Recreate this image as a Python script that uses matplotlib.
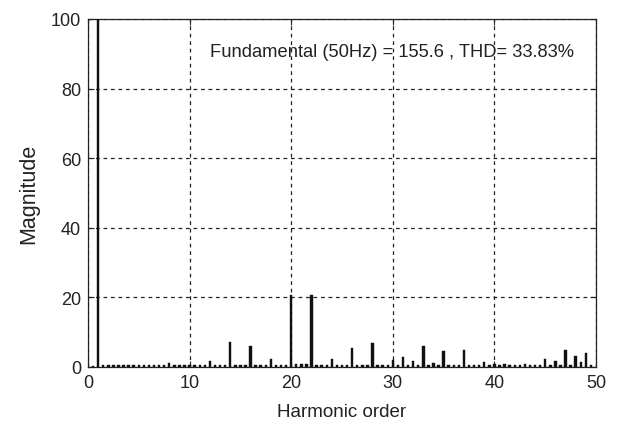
import numpy as np
import matplotlib
matplotlib.use("Agg")
import matplotlib.pyplot as plt

plt.rcParams['font.family'] = ['Liberation Sans', 'DejaVu Sans']

# Harmonic orders (half-order resolution) and their magnitudes (% of fundamental)
orders = [
    0.5, 1.0, 1.5, 2.0, 2.5, 3.0, 3.5, 4.0, 4.5, 5.0,
    5.5, 6.0, 6.5, 7.0, 7.5, 8.0, 8.5, 9.0, 9.5, 10.0,
    10.5, 11.0, 11.5, 12.0, 12.5, 13.0, 13.5, 14.0, 14.5, 15.0,
    15.5, 16.0, 16.5, 17.0, 17.5, 18.0, 18.5, 19.0, 19.5, 20.0,
    20.5, 21.0, 21.5, 22.0, 22.5, 23.0, 23.5, 24.0, 24.5, 25.0,
    25.5, 26.0, 26.5, 27.0, 27.5, 28.0, 28.5, 29.0, 29.5, 30.0,
    30.5, 31.0, 31.5, 32.0, 32.5, 33.0, 33.5, 34.0, 34.5, 35.0,
    35.5, 36.0, 36.5, 37.0, 37.5, 38.0, 38.5, 39.0, 39.5, 40.0,
    40.5, 41.0, 41.5, 42.0, 42.5, 43.0, 43.5, 44.0, 44.5, 45.0,
    45.5, 46.0, 46.5, 47.0, 47.5, 48.0, 48.5, 49.0, 49.5,
]
magnitudes = [
    0.3, 100.0, 0.5, 0.5, 0.5, 0.5, 0.5, 0.5, 0.5, 0.5,
    0.5, 0.5, 0.5, 0.5, 0.5, 1.2, 0.5, 0.5, 0.5, 0.5,
    0.5, 0.5, 0.5, 1.8, 0.5, 0.5, 0.5, 7.2, 0.5, 0.5,
    0.5, 6.0, 0.5, 0.5, 0.5, 2.2, 0.5, 0.5, 0.5, 20.7,
    1.0, 1.0, 1.0, 20.7, 0.5, 0.5, 0.5, 2.2, 0.5, 0.5,
    0.5, 5.5, 0.5, 0.5, 0.5, 7.0, 0.5, 0.5, 0.5, 2.0,
    0.5, 2.8, 0.5, 1.8, 0.5, 6.0, 0.5, 1.2, 0.5, 4.5,
    0.5, 0.5, 0.5, 5.0, 0.5, 0.5, 0.5, 1.5, 0.5, 1.0,
    0.5, 0.9, 0.5, 0.5, 0.5, 1.0, 0.5, 0.5, 0.5, 2.2,
    0.5, 1.8, 0.5, 5.0, 0.5, 3.2, 1.5, 4.0, 0.5,
]

x_ticks = [0, 10, 20, 30, 40, 50]
y_ticks = [0, 20, 40, 60, 80, 100]
fundamental_hz = 50
fundamental_mag = 155.6
thd_pct = 33.83

fig = plt.figure(figsize=(6.17, 4.27), dpi=100)
ax = fig.add_axes([0.1426, 0.1382, 0.8234, 0.815])

ax.bar(orders, magnitudes, width=0.24, color='#111111', edgecolor='#111111',
       linewidth=0.3, zorder=3)

ax.set_xlim(0, 50)
ax.set_ylim(0, 100)
ax.set_xticks(x_ticks)
ax.set_yticks(y_ticks)
ax.tick_params(direction='in', top=True, right=True, length=4, width=0.8,
               labelsize=13, colors='#222222', pad=5)
ax.grid(True, color='#222222', linestyle=(0, (3, 3)), linewidth=0.9, zorder=1)
ax.set_axisbelow(True)
for s in ax.spines.values():
    s.set_linewidth(0.9)
    s.set_color('#222222')

ax.set_xlabel('Harmonic order', fontsize=13.5, color='#222222', labelpad=9)
ax.set_ylabel('Magnitude', fontsize=15.5, color='#222222', labelpad=8)

ax.text(12.0, 90.8,
        f'Fundamental ({fundamental_hz}Hz) = {fundamental_mag} , THD= {thd_pct:.2f}%',
        fontsize=13.2, ha='left', va='center', color='#222222', zorder=4)

fig.savefig('out.png', dpi=100, facecolor='white')
